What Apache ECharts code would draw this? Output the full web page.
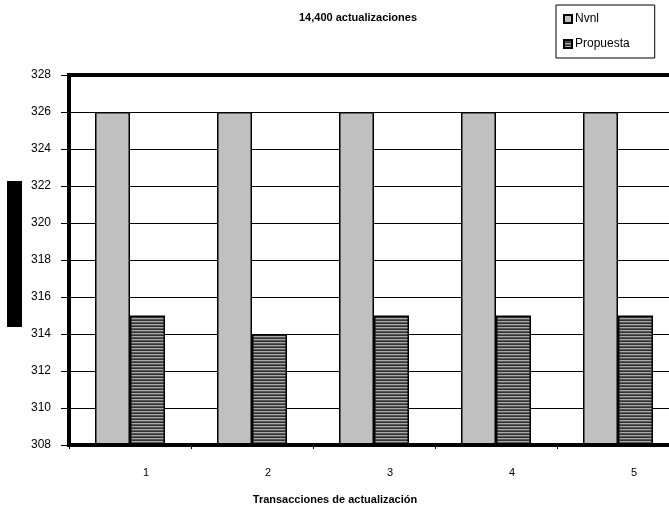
<!DOCTYPE html>
<html>
<head>
<meta charset="utf-8">
<script src="https://cdn.jsdelivr.net/npm/echarts@6/dist/echarts.min.js"></script>
<style>
  html, body { margin: 0; padding: 0; background: #fff; overflow: hidden; }
  /* the plot runs slightly past the right edge of the window */
  #chart { width: 680px; height: 510px; }
</style>
</head>
<body>
<div id="chart"></div>
<script>
// Transaction groups on the x axis
const categories = ['1', '2', '3', '4', '5'];
// Series values
const nvnlValues = [326, 326, 326, 326, 326];
const propuestaValues = [315, 314, 315, 315, 315];
// Value axis range
const yMin = 308;
const yMax = 328;
const yStep = 2;

const FONT = '"Liberation Sans", Arial, sans-serif';

// Horizontal stripe fill for the "Propuesta" bars
function stripePattern() {
  const c = document.createElement('canvas');
  c.width = 4; c.height = 3;
  const ctx = c.getContext('2d');
  ctx.fillStyle = '#a8a8a8'; ctx.fillRect(0, 0, 4, 1);
  ctx.fillStyle = '#5a5a5a'; ctx.fillRect(0, 1, 4, 1);
  ctx.fillStyle = '#333333'; ctx.fillRect(0, 2, 4, 1);
  return { image: c, repeat: 'repeat' };
}

const chart = echarts.init(document.getElementById('chart'), null, { renderer: 'canvas' });

chart.setOption({
  animation: false,
  backgroundColor: '#fff',
  title: {
    text: '14,400 actualizaciones',
    left: 294,
    top: 7,
    textStyle: { fontFamily: FONT, fontSize: 11, fontWeight: 'bold', color: '#000' }
  },
  legend: {
    orient: 'vertical',
    left: 556,
    top: 5,
    padding: [8, 25, 8, 7],
    itemGap: 13,
    itemWidth: 8,
    itemHeight: 8,
    borderColor: '#000',
    borderWidth: 1,
    icon: 'rect',
    textStyle: { fontFamily: FONT, fontSize: 12, color: '#000', padding: [0, 0, 0, -2] },
    data: ['Nvnl', 'Propuesta']
  },
  grid: {
    left: 69,
    top: 75,
    bottom: 65,
    width: 610,
    show: true,
    borderColor: '#000',
    borderWidth: 4,
    backgroundColor: '#fff'
  },
  graphic: [{
    type: 'rect',
    shape: { x: 7, y: 181, width: 15, height: 146 },
    style: { fill: '#000' }
  }],
  xAxis: {
    type: 'category',
    data: categories,
    z: 5,
    name: 'Transacciones de actualización',
    nameLocation: 'middle',
    nameGap: 49,
    nameTextStyle: { fontFamily: FONT, fontSize: 11, fontWeight: 'bold', color: '#000', padding: [0, 78, 0, 0] },
    axisLine: { show: true, lineStyle: { color: '#000', width: 4 } },
    axisTick: { show: true, inside: false, length: 4, lineStyle: { color: '#000', width: 1 } },
    axisLabel: { fontFamily: FONT, fontSize: 11, color: '#000', margin: 22, padding: [0, 0, 0, 32] },
    splitLine: { show: false }
  },
  yAxis: {
    type: 'value',
    min: yMin,
    max: yMax,
    interval: yStep,
    axisLine: { show: true, lineStyle: { color: '#000', width: 4 } },
    axisTick: { show: true, length: 8, lineStyle: { color: '#000', width: 1 } },
    axisLabel: { fontFamily: FONT, fontSize: 12, color: '#000', margin: 18 },
    splitLine: { show: true, lineStyle: { color: '#000', width: 1 } }
  },
  series: [
    {
      name: 'Nvnl',
      type: 'bar',
      data: nvnlValues,
      barWidth: 35,
      barGap: '0%',
      itemStyle: { color: '#c0c0c0', borderColor: '#000', borderWidth: 1.5 }
    },
    {
      name: 'Propuesta',
      type: 'bar',
      data: propuestaValues,
      barWidth: 35,
      barGap: '0%',
      itemStyle: { color: stripePattern(), borderColor: '#000', borderWidth: 1.5 }
    }
  ]
});
</script>
</body>
</html>
